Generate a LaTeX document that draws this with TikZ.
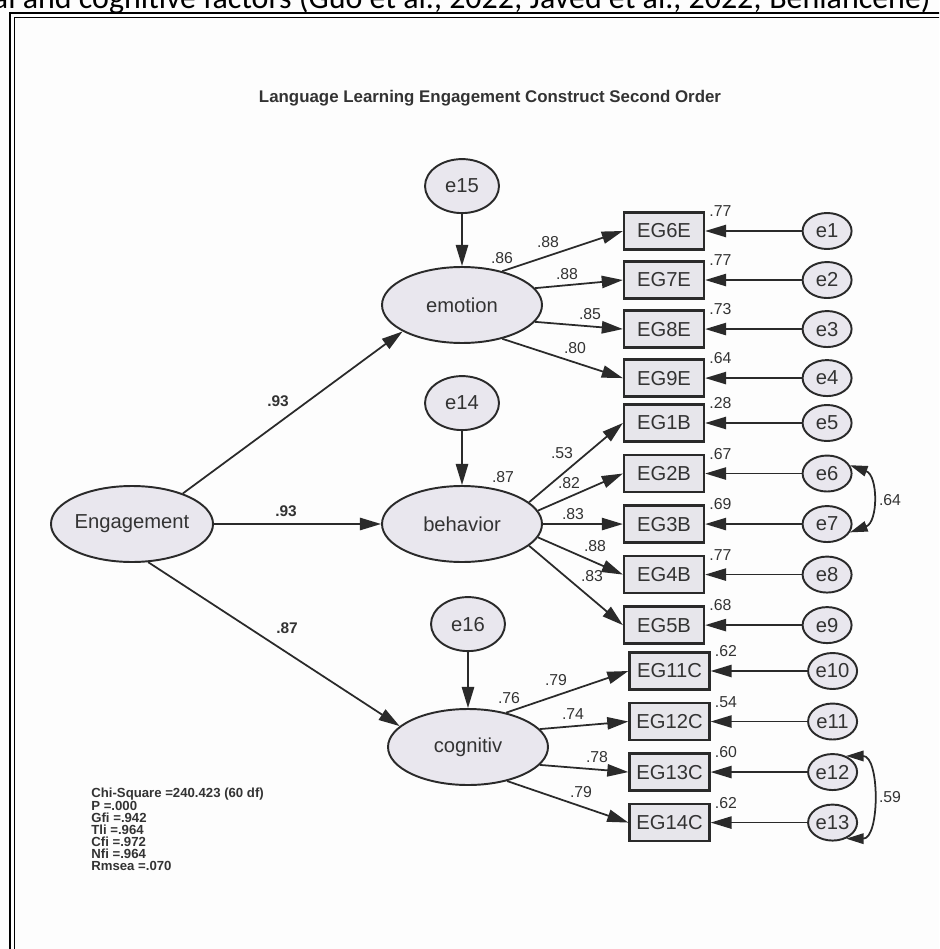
\documentclass[tikz,border=0pt]{standalone}
\usepackage{fontspec}
\setmainfont{Liberation Sans}
\newfontfamily\carlito{Carlito}
\usepackage{tikz}
\usetikzlibrary{shapes.geometric, arrows.meta, positioning}
\definecolor{semfill}{HTML}{E9E7EE}
\definecolor{boxfill}{HTML}{E7E6EB}
\definecolor{semline}{HTML}{2A2A2A}
\definecolor{semtext}{HTML}{333333}
\definecolor{pagebg}{HTML}{FDFDFD}

\begin{document}
\begin{tikzpicture}[
  x=0.02cm, y=-0.02cm,
  node distance=0.225cm,
  latent/.style={ellipse, draw=semline, line width=1.1pt, fill=semfill, minimum width=3.2cm, minimum height=1.52cm, inner sep=0pt, font=\fontsize{11.5}{13}\selectfont, text=semtext},
  errbig/.style={ellipse, draw=semline, line width=1.1pt, fill=semfill, minimum width=1.48cm, minimum height=1.08cm, inner sep=0pt, font=\fontsize{11.5}{13}\selectfont, text=semtext},
  errsmall/.style={ellipse, draw=semline, line width=1.1pt, fill=semfill, minimum width=0.98cm, minimum height=0.72cm, inner sep=0pt, font=\fontsize{11.5}{13}\selectfont, text=semtext},
  indicator/.style={rectangle, draw=semline, line width=1.3pt, fill=boxfill, minimum width=1.6cm, minimum height=0.74cm, inner sep=0pt, font=\fontsize{11.5}{13}\selectfont, text=semtext},
  arrow/.style={-{Triangle[length=12pt, width=7pt]}, line width=1pt, color=semline},
  covar/.style={{Triangle[length=10pt, width=6pt]}-{Triangle[length=10pt, width=6pt]}, line width=1pt, color=semline},
  coeflbl/.style={font=\fontsize{9}{10}\selectfont, text=semtext, inner sep=0pt},
  boldlbl/.style={font=\bfseries\fontsize{8.8}{10}\selectfont, text=semtext, inner sep=0pt}
]
  % Page and frame
  \clip (0,0) rectangle (939,949);
  \fill[pagebg] (0,0) rectangle (939,949);
  \draw[line width=1.5pt, black] (10,960) -- (10,13) -- (950,13);
  \draw[line width=0.7pt, black] (14.5,960) -- (14.5,17.5) -- (950,17.5);
  \node[anchor=base east, inner sep=0pt, font=\carlito\fontsize{18.2}{20}\selectfont] (citeline) at (931,9) {al and cognitive factors (Guo et al., 2022; Javed et al., 2022; Benlahcene)};

  % Title
  \node[font=\bfseries\fontsize{9.6}{11}\selectfont, text=semtext] (title) at (490,98) {Language Learning Engagement Construct Second Order};

  % Latent factors
  \node[latent] (Engagement) at (132,524) {Engagement};
  \node[latent] (emotion) at (462,305) {emotion};
  \node[latent] (behavior) at (462,524) {behavior};
  \node[latent] (cognitiv) at (468,747) {cognitiv};

  % Disturbances
  \node[errbig, above=1.04cm of emotion] (e15) {e15};
  \node[errbig, above=1.08cm of behavior] (e14) {e14};
  \node[errbig, above=1.12cm of cognitiv] (e16) {e16};

  % Emotion items
  \node[indicator] (EG6E) at (664,231) {EG6E};
  \node[indicator, below=0.195cm of EG6E] (EG7E) {EG7E};
  \node[indicator, below=0.195cm of EG7E] (EG8E) {EG8E};
  \node[indicator, below=0.195cm of EG8E] (EG9E) {EG9E};

  % Behavior items
  \node[indicator] (EG1B) at (664,423) {EG1B};
  \node[indicator, below=of EG1B] (EG2B) {EG2B};
  \node[indicator, below=of EG2B] (EG3B) {EG3B};
  \node[indicator, below=of EG3B] (EG4B) {EG4B};
  \node[indicator, below=of EG4B] (EG5B) {EG5B};

  % Cognitive items
  \node[indicator] (EG11C) at (669.5,671) {EG11C};
  \node[indicator, below=of EG11C] (EG12C) {EG12C};
  \node[indicator, below=of EG12C] (EG13C) {EG13C};
  \node[indicator, below=of EG13C] (EG14C) {EG14C};

  % Item errors
  \node[errsmall, right=1.93cm of EG6E] (e1) {e1};
  \node[errsmall, right=1.93cm of EG7E] (e2) {e2};
  \node[errsmall, right=1.93cm of EG8E] (e3) {e3};
  \node[errsmall, right=1.93cm of EG9E] (e4) {e4};
  \node[errsmall, right=1.93cm of EG1B] (e5) {e5};
  \node[errsmall, right=1.93cm of EG2B] (e6) {e6};
  \node[errsmall, right=1.93cm of EG3B] (e7) {e7};
  \node[errsmall, right=1.93cm of EG4B] (e8) {e8};
  \node[errsmall, right=1.93cm of EG5B] (e9) {e9};
  \node[errsmall, right=1.93cm of EG11C] (e10) {e10};
  \node[errsmall, right=1.93cm of EG12C] (e11) {e11};
  \node[errsmall, right=1.93cm of EG13C] (e12) {e12};
  \node[errsmall, right=1.93cm of EG14C] (e13) {e13};

  % Second order paths
  \draw[arrow] (Engagement.31) -- (emotion.204);
  \draw[arrow] (Engagement.east) -- (behavior.west);
  \draw[arrow] (Engagement.-67) -- (cognitiv.163);
  \draw[arrow] (e15) -- (emotion);
  \draw[arrow] (e14) -- (behavior);
  \draw[arrow] (e16) -- (cognitiv);

  % Loadings
  \draw[arrow] (emotion.40) -- (EG6E.west);
  \draw[arrow] (emotion.13) -- (EG7E.west);
  \draw[arrow] (emotion.-13) -- (EG8E.west);
  \draw[arrow] (emotion.-40) -- (EG9E.west);
  \draw[arrow] (behavior.18) -- (EG1B.west);
  \draw[arrow] (behavior.10) -- (EG2B.west);
  \draw[arrow] (behavior.east) -- (EG3B.west);
  \draw[arrow] (behavior.-10) -- (EG4B.west);
  \draw[arrow] (behavior.-18) -- (EG5B.west);
  \draw[arrow] (cognitiv.42) -- (EG11C.west);
  \draw[arrow] (cognitiv.14) -- (EG12C.west);
  \draw[arrow] (cognitiv.-14) -- (EG13C.west);
  \draw[arrow] (cognitiv.-41) -- (EG14C.west);

  % Error arrows
  \draw[arrow] (e1) -- (EG6E);
  \draw[arrow] (e2) -- (EG7E);
  \draw[arrow] (e3) -- (EG8E);
  \draw[arrow] (e4) -- (EG9E);
  \draw[arrow] (e5) -- (EG1B);
  \draw[arrow] (e6) -- (EG2B);
  \draw[arrow] (e7) -- (EG3B);
  \draw[arrow] (e8) -- (EG4B);
  \draw[arrow] (e9) -- (EG5B);
  \draw[arrow] (e10) -- (EG11C);
  \draw[arrow] (e11) -- (EG12C);
  \draw[arrow] (e12) -- (EG13C);
  \draw[arrow] (e13) -- (EG14C);

  % Covariances
  \draw[covar] (e6.20) to[out=-20, in=20, looseness=1.15] (e7.-20);
  \draw[covar] (e12.50) to[out=0, in=0, looseness=1.05] (e13.-50);

  % Labels
  \node[boldlbl] (g1) at (278,401) {.93};
  \node[boldlbl] (g2) at (286,511) {.93};
  \node[boldlbl] (g3) at (287,628) {.87};
  \node[coeflbl] (r15) at (502,258) {.86};
  \node[coeflbl] (r14) at (503,477) {.87};
  \node[coeflbl] (r16) at (509,698) {.76};
  \node[coeflbl] (l6) at (548,242) {.88};
  \node[coeflbl] (l7) at (567,274) {.88};
  \node[coeflbl] (l8) at (590,314) {.85};
  \node[coeflbl] (l9) at (575,348) {.80};
  \node[coeflbl] (l1) at (562,453) {.53};
  \node[coeflbl] (l2) at (569,483) {.82};
  \node[coeflbl] (l3) at (573,514) {.83};
  \node[coeflbl] (l4) at (595,546) {.88};
  \node[coeflbl] (l5) at (592,576) {.83};
  \node[coeflbl] (l11) at (556,680) {.79};
  \node[coeflbl] (l12) at (573,714) {.74};
  \node[coeflbl] (l13) at (597,757) {.78};
  \node[coeflbl] (l14) at (581,792) {.79};
  \node[coeflbl, right=0.08cm of EG6E.north east] (s6) {.77};
  \node[coeflbl, right=0.08cm of EG7E.north east] (s7) {.77};
  \node[coeflbl, right=0.08cm of EG8E.north east] (s8) {.73};
  \node[coeflbl, right=0.08cm of EG9E.north east] (s9) {.64};
  \node[coeflbl, right=0.08cm of EG1B.north east] (s1) {.28};
  \node[coeflbl, right=0.08cm of EG2B.north east] (s2) {.67};
  \node[coeflbl, right=0.08cm of EG3B.north east] (s3) {.69};
  \node[coeflbl, right=0.08cm of EG4B.north east] (s4) {.77};
  \node[coeflbl, right=0.08cm of EG5B.north east] (s5) {.68};
  \node[coeflbl, right=0.08cm of EG11C.north east] (s11) {.62};
  \node[coeflbl, right=0.08cm of EG12C.north east] (s12) {.54};
  \node[coeflbl, right=0.08cm of EG13C.north east] (s13) {.60};
  \node[coeflbl, right=0.08cm of EG14C.north east] (s14) {.62};
  \node[coeflbl] (c67) at (890,500) {.64};
  \node[coeflbl] (c1213) at (890,797) {.59};

  % Fit indices
  \node[anchor=north west, align=left, inner sep=0pt, text=semtext, font=\bfseries\fontsize{7.5}{6.93}\selectfont] (fitstats) at (91,788) {Chi-Square =240.423 (60 df)\\P =.000\\Gfi =.942\\Tli =.964\\Cfi =.972\\Nfi =.964\\Rmsea =.070};
\end{tikzpicture}
\end{document}
